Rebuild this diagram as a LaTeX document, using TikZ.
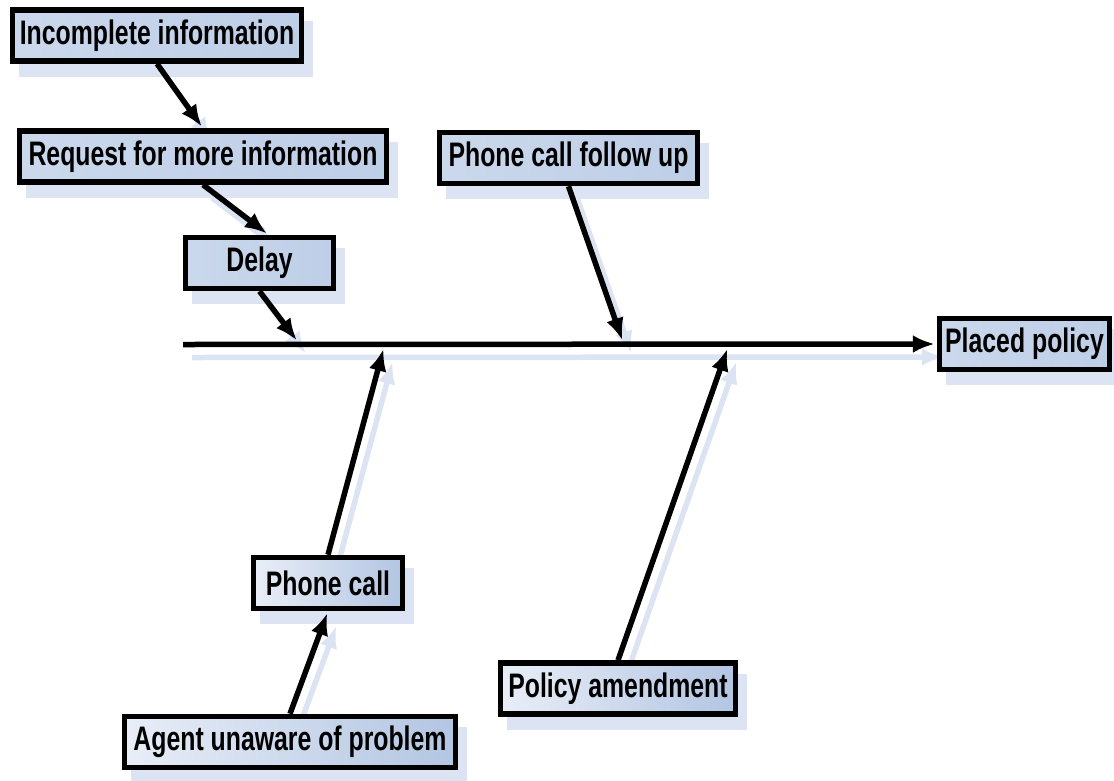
\documentclass[tikz,border=0pt]{standalone}
\usepackage{fontspec}
\setmainfont{Liberation Sans}[FakeStretch=0.73]
\usetikzlibrary{arrows.meta,shadows}
\definecolor{boxleft}{HTML}{E9EEF7}
\definecolor{boxright}{HTML}{B2C5E2}
\definecolor{flatleft}{HTML}{CBD8EC}
\definecolor{flatright}{HTML}{BDCEE7}
\definecolor{shadowblue}{HTML}{DCE4F3}
\pgfdeclarelayer{background}
\pgfsetlayers{background,main}

\begin{document}
\begin{tikzpicture}[x=1pt, y=-1pt,
cause/.style={
        draw,
        line width=5.5pt,
        left color=flatleft,
        right color=flatright,
        minimum height=51pt,
        inner xsep=4pt,
        align=center,
        font = \fontsize{34}{36}\selectfont\bfseries,
        drop shadow={shadow xshift=9pt, shadow yshift=-13pt, fill=shadowblue, draw=shadowblue, line width=5pt, opacity=1},
    },
   fadecause/.style = {cause, left color=boxleft, right color=boxright},
   flow/.style = {
   line width = 5.5pt,
   shorten >= 2pt,
   -{Latex[length=22pt, width=18pt]},
   },
   flowshadow/.style = {flow, shadowblue, transform canvas={shift={(9pt,-13pt)}}},
 ]
\useasboundingbox (0,0) rectangle (1114,780);

   \node [cause, minimum width=289pt] (incomplete) at (157,35.5) {Incomplete information};
   \node [cause, minimum width=367pt] (request) at (203,156.5) {Request for more information};
   \node [cause, minimum width=148pt] (delay) at (259.5,263) {Delay};
   \node [cause, minimum width=258pt] (followup) at (568.5,158) {Phone call follow up};
   \node [cause, minimum width=170pt] (placed) at (1024.5,344) {Placed policy};
   \node [fadecause, minimum width=149pt] (phonecall) at (328,583) {Phone call};
   \node [fadecause, minimum width=235pt] (amendment) at (618,688.5) {Policy amendment};
   \node [fadecause, minimum width=331pt] (agent) at (290,742) {Agent unaware of problem};

% spine points
\coordinate (tail) at (183,344.5);
\coordinate (jdelay) at (298,342);
\coordinate (jphone) at (384,347);
\coordinate (jfollow) at (623,342);
\coordinate (jamend) at (728,347);

\begin{pgfonlayer}{background}
\draw[flowshadow] (tail) -- (placed.west);
\draw[flowshadow] (incomplete.south) -- (request.north);
\draw[flowshadow] (request.south) -- ([xshift=9pt]delay.north);
\draw[flowshadow] (delay.south) -- (jdelay);
\draw[flowshadow] (followup.south) -- (jfollow);
\draw[flowshadow] (phonecall.north) -- (jphone);
\draw[flowshadow] (amendment.north) -- (jamend);
\draw[flowshadow] (agent.north) -- (phonecall.south);
\end{pgfonlayer}

\draw[flow] (tail) -- (placed.west);
\draw[flow] (incomplete.south) -- (request.north);
\draw[flow] (request.south) -- ([xshift=9pt]delay.north);
\draw[flow] (delay.south) -- (jdelay);
\draw[flow] (followup.south) -- (jfollow);
\draw[flow] (phonecall.north) -- (jphone);
\draw[flow] (amendment.north) -- (jamend);
\draw[flow] (agent.north) -- (phonecall.south);
\end{tikzpicture}
\end{document}
